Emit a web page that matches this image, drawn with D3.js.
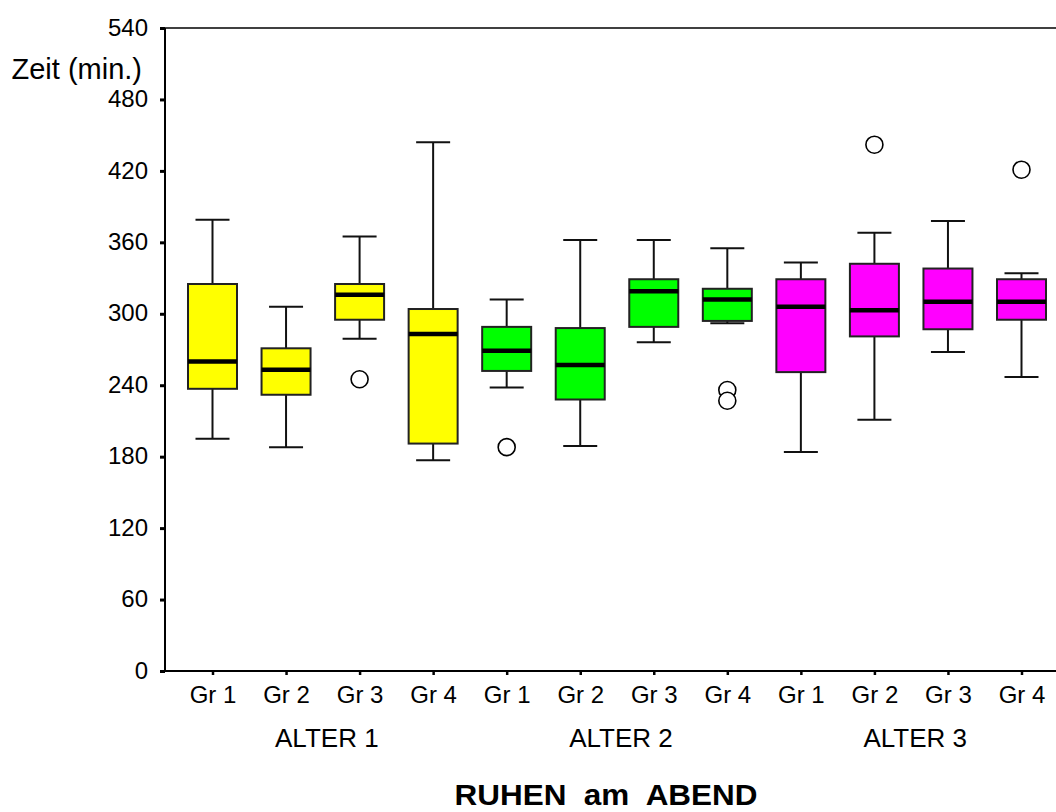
<!DOCTYPE html>
<html>
<head>
<meta charset="utf-8">
<script src="https://cdn.jsdelivr.net/npm/d3@7"></script>
<style>
  html, body { margin: 0; padding: 0; background: #fff; }
  svg { display: block; font-family: "Liberation Sans", Arial, sans-serif; }
</style>
</head>
<body>
<svg id="chart" width="1056" height="812"></svg>
<script>
// ---- data ----
const groupLabels = ["ALTER 1", "ALTER 2", "ALTER 3"];
const subLabels = ["Gr 1", "Gr 2", "Gr 3", "Gr 4"];
const groupColors = ["#ffff00", "#00ff00", "#ff00ff"];
const yTicks = [0, 60, 120, 180, 240, 300, 360, 420, 480, 540];
// per box, order: ALTER1 Gr1..Gr4, ALTER2 Gr1..Gr4, ALTER3 Gr1..Gr4
const whiskerLow  = [195, 188, 279, 177, 238, 189, 276, 292, 184, 211, 268, 247];
const q1          = [237, 232, 295, 191, 252, 228, 289, 294, 251, 281, 287, 295];
const median      = [260, 253, 316, 283, 269, 257, 319, 312, 306, 303, 310, 310];
const q3          = [325, 271, 325, 304, 289, 288, 329, 321, 329, 342, 338, 329];
const whiskerHigh = [379, 306, 365, 444, 312, 362, 362, 355, 343, 368, 378, 334];
const outliers    = [[], [], [245], [], [188], [], [], [236, 227], [], [442], [], [421]];
const yLabel = "Zeit (min.)";
const xTitle = "RUHEN  am  ABEND";

// ---- build ----
const boxes = [];
groupLabels.forEach((g, gi) => subLabels.forEach((s, si) => {
  const i = gi * subLabels.length + si;
  boxes.push({ key: g + "|" + s, group: gi, sub: s, lo: whiskerLow[i], q1: q1[i], med: median[i],
               q3: q3[i], hi: whiskerHigh[i], out: outliers[i] });
}));

const svg = d3.select("#chart");
const plotLeft = 165, plotRight = 1056, plotTop = 28, plotBottom = 671;

const x = d3.scalePoint().domain(boxes.map(d => d.key)).range([212.5, 1021.5]);
const y = d3.scaleLinear().domain([0, 540]).range([plotBottom, plotTop]);
const boxW = 49, capW = 34;

// top frame line
svg.append("line").attr("x1", plotLeft).attr("x2", plotRight)
  .attr("y1", plotTop).attr("y2", plotTop).attr("stroke", "#000").attr("stroke-width", 1.5);

// y axis
const yAxis = svg.append("g").attr("transform", `translate(${plotLeft},0)`)
  .call(d3.axisLeft(y).tickValues(yTicks).tickSize(5).tickPadding(12).tickFormat(d3.format("d")));
yAxis.select(".domain").remove();
yAxis.selectAll(".tick line").attr("stroke", "#000").attr("stroke-width", 3);
yAxis.selectAll(".tick text").attr("font-size", 24).attr("fill", "#000")
  .attr("font-family", "Liberation Sans, Arial, sans-serif").attr("dy", "0.3em");
svg.append("line").attr("x1", plotLeft).attr("x2", plotLeft)
  .attr("y1", plotTop).attr("y2", plotBottom + 1).attr("stroke", "#000").attr("stroke-width", 2);

// x axis
const xAxis = svg.append("g").attr("transform", `translate(0,${plotBottom})`)
  .call(d3.axisBottom(x).tickSize(4).tickPadding(11).tickFormat(k => k.split("|")[1]));
xAxis.select(".domain").remove();
xAxis.selectAll(".tick line").attr("stroke", "#000").attr("stroke-width", 2.5);
xAxis.selectAll(".tick text").attr("font-size", 24).attr("fill", "#000")
  .attr("font-family", "Liberation Sans, Arial, sans-serif");
svg.append("line").attr("x1", plotLeft - 1).attr("x2", plotRight)
  .attr("y1", plotBottom).attr("y2", plotBottom).attr("stroke", "#000").attr("stroke-width", 2);

// y label
svg.append("text").attr("x", 142).attr("y", 79).attr("text-anchor", "end")
  .attr("font-size", 29).attr("fill", "#000").text(yLabel);

// group labels
groupLabels.forEach((g, gi) => {
  const keys = boxes.filter(b => b.group === gi).map(b => x(b.key));
  const cx = (d3.min(keys) + d3.max(keys)) / 2;
  svg.append("text").attr("x", cx + 4).attr("y", 747).attr("text-anchor", "middle")
    .attr("font-size", 26).attr("fill", "#000").text(g);
});

// title
svg.append("text").attr("x", 606).attr("y", 805).attr("text-anchor", "middle")
  .attr("font-size", 30).attr("font-weight", "bold").attr("fill", "#000")
  .attr("textLength", 303).attr("lengthAdjust", "spacingAndGlyphs")
  .attr("xml:space", "preserve").style("white-space", "pre").text(xTitle);

// boxes
const g = svg.append("g");
boxes.forEach(b => {
  const cx = x(b.key);
  const bg = g.append("g");
  // whiskers
  bg.append("line").attr("x1", cx).attr("x2", cx).attr("y1", y(b.hi)).attr("y2", y(b.q3))
    .attr("stroke", "#111").attr("stroke-width", 2);
  bg.append("line").attr("x1", cx).attr("x2", cx).attr("y1", y(b.q1)).attr("y2", y(b.lo))
    .attr("stroke", "#111").attr("stroke-width", 2);
  bg.append("line").attr("x1", cx - capW / 2).attr("x2", cx + capW / 2).attr("y1", y(b.hi)).attr("y2", y(b.hi))
    .attr("stroke", "#111").attr("stroke-width", 2);
  bg.append("line").attr("x1", cx - capW / 2).attr("x2", cx + capW / 2).attr("y1", y(b.lo)).attr("y2", y(b.lo))
    .attr("stroke", "#111").attr("stroke-width", 2);
  // box
  bg.append("rect").attr("x", cx - boxW / 2).attr("width", boxW)
    .attr("y", y(b.q3)).attr("height", y(b.q1) - y(b.q3))
    .attr("fill", groupColors[b.group]).attr("stroke", "#222").attr("stroke-width", 2);
  // median
  bg.append("line").attr("x1", cx - boxW / 2).attr("x2", cx + boxW / 2).attr("y1", y(b.med)).attr("y2", y(b.med))
    .attr("stroke", "#000").attr("stroke-width", 4.5);
  // outliers
  b.out.forEach(v => {
    bg.append("circle").attr("cx", cx).attr("cy", y(v)).attr("r", 8.5)
      .attr("fill", "#fff").attr("stroke", "#000").attr("stroke-width", 1.6);
  });
});
</script>
</body>
</html>
